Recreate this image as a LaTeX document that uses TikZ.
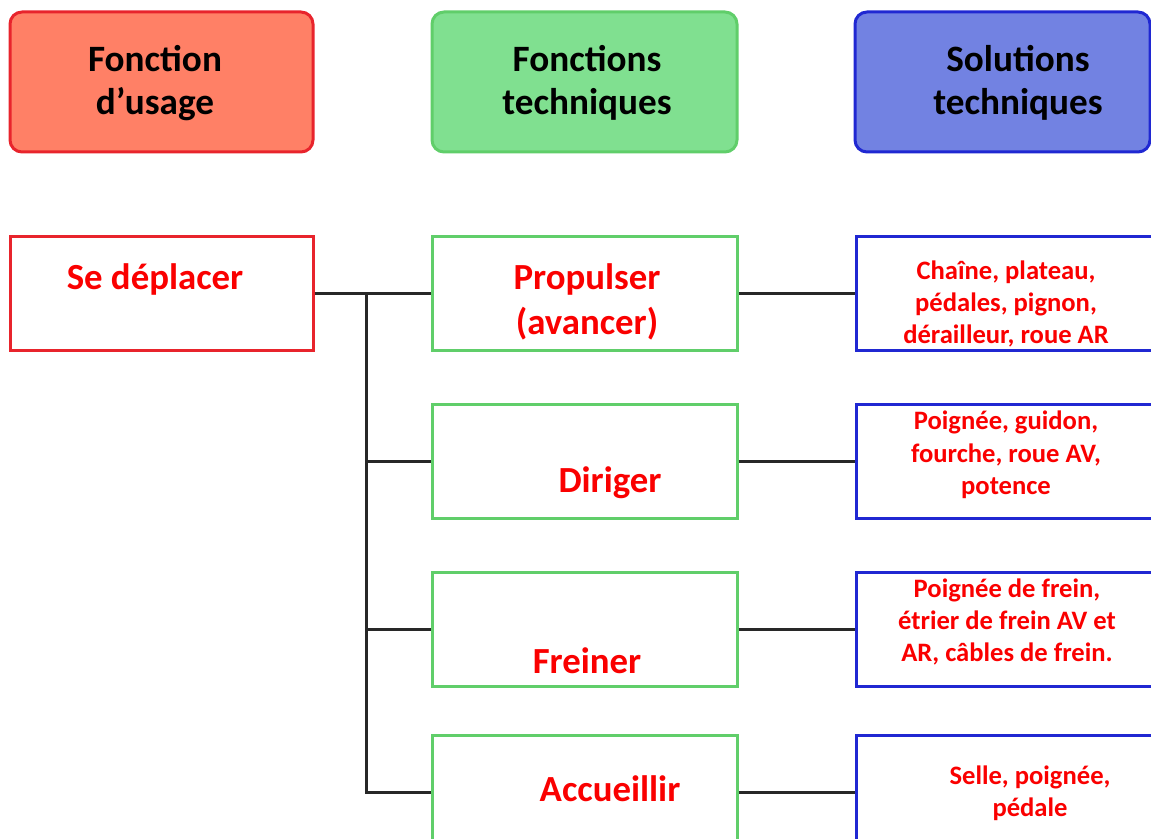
\documentclass[tikz,border=0pt]{standalone}
\usepackage{fontspec}
\setmainfont{Carlito}
\usetikzlibrary{positioning}
\definecolor{usagefill}{RGB}{255,128,102}
\definecolor{usageline}{RGB}{232,36,44}
\definecolor{techfill}{RGB}{128,224,144}
\definecolor{techline}{RGB}{96,206,106}
\definecolor{solfill}{RGB}{114,130,226}
\definecolor{solline}{RGB}{32,40,210}
\definecolor{labelred}{RGB}{250,0,0}
\definecolor{linkgray}{RGB}{40,40,40}
\tikzset{
  every picture/.style={font={\bfseries}, x=0.5pt, y=-0.5pt},
  titlebox/.style={draw, rounded corners=6pt, line width=1.5pt,
    minimum width=151.5pt, minimum height=70pt},
  fbox/.style={draw, line width=1.5pt, fill=white, minimum height=57pt},
  bigtext/.style={text=labelred, font={\fontsize{18.4}{22.5}\selectfont\bfseries}, align=center},
  smalltext/.style={text=labelred, font={\fontsize{13.3}{16.2}\selectfont\bfseries}, align=center},
  titletext/.style={font={\fontsize{18.6}{21.5}\selectfont\bfseries}, align=center},
  link/.style={draw=linkgray, line width=1.5pt}}

\begin{document}
\begin{tikzpicture}
  \useasboundingbox (0,0) rectangle (1151,839);
  \clip (0,0) rectangle (1151,839);

  % column titles
  \node (usage) [titlebox, draw=usageline, fill=usagefill] at (161.5,82) {};
  \node (tech) [titlebox, draw=techline, fill=techfill, minimum width=152.5pt] at (584.5,82) {};
  \node (sol) [titlebox, draw=solline, fill=solfill, minimum width=147.5pt] at (1002.5,82) {};
  \node [titletext] at (155,83) {Fonction\\d’usage};
  \node [titletext] at (587,83) {Fonctions\\techniques};
  \node [titletext] at (1018,83) {Solutions\\techniques};

  % boxes
  \node (deplacer) [fbox, draw=usageline, minimum width=151.5pt] at (161.5,294) {};
  \foreach \name/\y in {propulser/294, diriger/461.5, freiner/629.5, accueil/792.5}
    \node (\name) [fbox, draw=techline, minimum width=152.5pt] at (584.5,\y) {};
  \foreach \name/\y in {transmission/294, direction/461.5, freinage/629.5, confort/792.5}
    \node (\name) [fbox, draw=solline, minimum width=150pt] at (1006,\y) {};

  % links
  \coordinate (jct) at (366,294);
  \draw [link] (deplacer.east) -- (propulser.west);
  \foreach \f in {diriger, freiner, accueil}
    \draw [link] (jct) |- (\f.west);
  \foreach \f/\s in {propulser/transmission, diriger/direction, freiner/freinage, accueil/confort}
    \draw [link] (\f.east) -- (\s.west);

  % texts
  \node [bigtext] at (155,279) {Se déplacer};
  \node [bigtext] at (587,302) {Propulser\\(avancer)};
  \node [bigtext] at (610,483) {Diriger};
  \node [bigtext] at (587,661) {Freiner};
  \node [bigtext] at (610,789) {Accueillir};
  \node [smalltext] at (1006,304) {Chaîne, plateau,\\pédales, pignon,\\dérailleur, roue AR};
  \node [smalltext] at (1006,455) {Poignée, guidon,\\fourche, roue AV,\\potence};
  \node [smalltext] at (1007,622) {Poignée de frein,\\étrier de frein AV et\\AR, câbles de frein.};
  \node [smalltext] at (1030,793) {Selle, poignée,\\pédale};
\end{tikzpicture}
\end{document}
